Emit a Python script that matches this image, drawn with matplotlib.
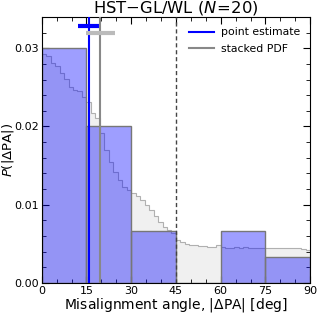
import numpy as np
import matplotlib
matplotlib.use("Agg")
import matplotlib.pyplot as plt
from matplotlib.ticker import MultipleLocator, FormatStrFormatter

# histogram of point estimates (N=20), 15 deg bins
bin_edges = [0, 15, 30, 45, 60, 75, 90]
counts = [9, 6, 2, 0, 2, 1]
n_obj = 20

# stacked PDF, 1.5 deg bins
pdf_edges = np.arange(0, 90.01, 1.5)
pdf_vals = [0.0293, 0.0290, 0.0281, 0.0278, 0.0268, 0.0261, 0.0251, 0.0247,
            0.0245, 0.0238, 0.0231, 0.0217, 0.0211, 0.0192, 0.0170, 0.0155,
            0.0142, 0.0131, 0.0123, 0.0119, 0.0115, 0.0111, 0.0106, 0.0099,
            0.0093, 0.0086, 0.0078, 0.0071, 0.0068, 0.0064, 0.0055, 0.0052,
            0.0050, 0.0049, 0.0048, 0.0047, 0.0047, 0.0046, 0.0046, 0.0048,
            0.0046, 0.0045, 0.0045, 0.0046, 0.0045, 0.0046, 0.0045, 0.0045,
            0.0045, 0.0044, 0.0044, 0.0044, 0.0044, 0.0045, 0.0044, 0.0045,
            0.0044, 0.0044, 0.0043, 0.0042]

# summary statistics: (median, low, high, y position)
point_est = (16.0, 12.3, 19.8, 0.0329)
stacked = (19.6, 14.9, 24.5, 0.0319)

fig = plt.figure(figsize=(3.17, 3.16), dpi=100)
ax = fig.add_axes([0.1315, 0.105, 0.847, 0.841])

ax.stairs(pdf_vals, pdf_edges, fill=True, color="#f0f0f0", zorder=1)
ax.stairs(pdf_vals, pdf_edges, color="#b0b0b0", lw=0.8, zorder=1.5)

density = np.array(counts) / (n_obj * 15.0)
ax.bar(bin_edges[:-1], density, width=np.diff(bin_edges), align="edge",
       color="blue", alpha=0.38, edgecolor="none", zorder=2)
ax.bar(bin_edges[:-1], density, width=np.diff(bin_edges), align="edge",
       facecolor="none", edgecolor="#777777", lw=1.0, zorder=2.5)

ax.axvline(45, color="#444444", ls="--", lw=1.0, dashes=(3, 2), zorder=3)

ax.axvline(point_est[0], color="blue", lw=1.5, zorder=4, label="point estimate")
ax.plot([point_est[1], point_est[2]], [point_est[3]] * 2, color="blue", lw=3,
        solid_capstyle="butt", zorder=4)
ax.axvline(stacked[0], color="#888888", lw=1.5, zorder=4, label="stacked PDF")
ax.plot([stacked[1], stacked[2]], [stacked[3]] * 2, color="#bbbbbb", lw=3,
        solid_capstyle="butt", zorder=4)

ax.set_xlim(0, 90)
ax.set_ylim(0, 0.034)
ax.xaxis.set_major_locator(MultipleLocator(15))
ax.xaxis.set_minor_locator(MultipleLocator(5))
ax.yaxis.set_major_locator(MultipleLocator(0.01))
ax.yaxis.set_minor_locator(MultipleLocator(0.002))
ax.yaxis.set_major_formatter(FormatStrFormatter("%.2f"))
ax.tick_params(which="both", direction="in", top=True, right=True, labelsize=8)
ax.tick_params(which="major", length=5, pad=2)
ax.tick_params(which="minor", length=3)

ax.set_title(r"HST$-$GL/WL ($N\!=\!20$)", fontsize=11.8, pad=0.5)
ax.set_xlabel(r"Misalignment angle, $|\Delta{\rm PA}|$ [deg]", fontsize=10, labelpad=0)
ax.set_ylabel(r"$P(|\Delta{\rm PA}|)$", fontsize=9.5, labelpad=-1.5)

ax.legend(loc="upper right", frameon=False, fontsize=7.8, handlelength=2.3,
          handletextpad=0.6, borderaxespad=0.55, labelspacing=0.6)

fig.savefig("out.png", dpi=100)
